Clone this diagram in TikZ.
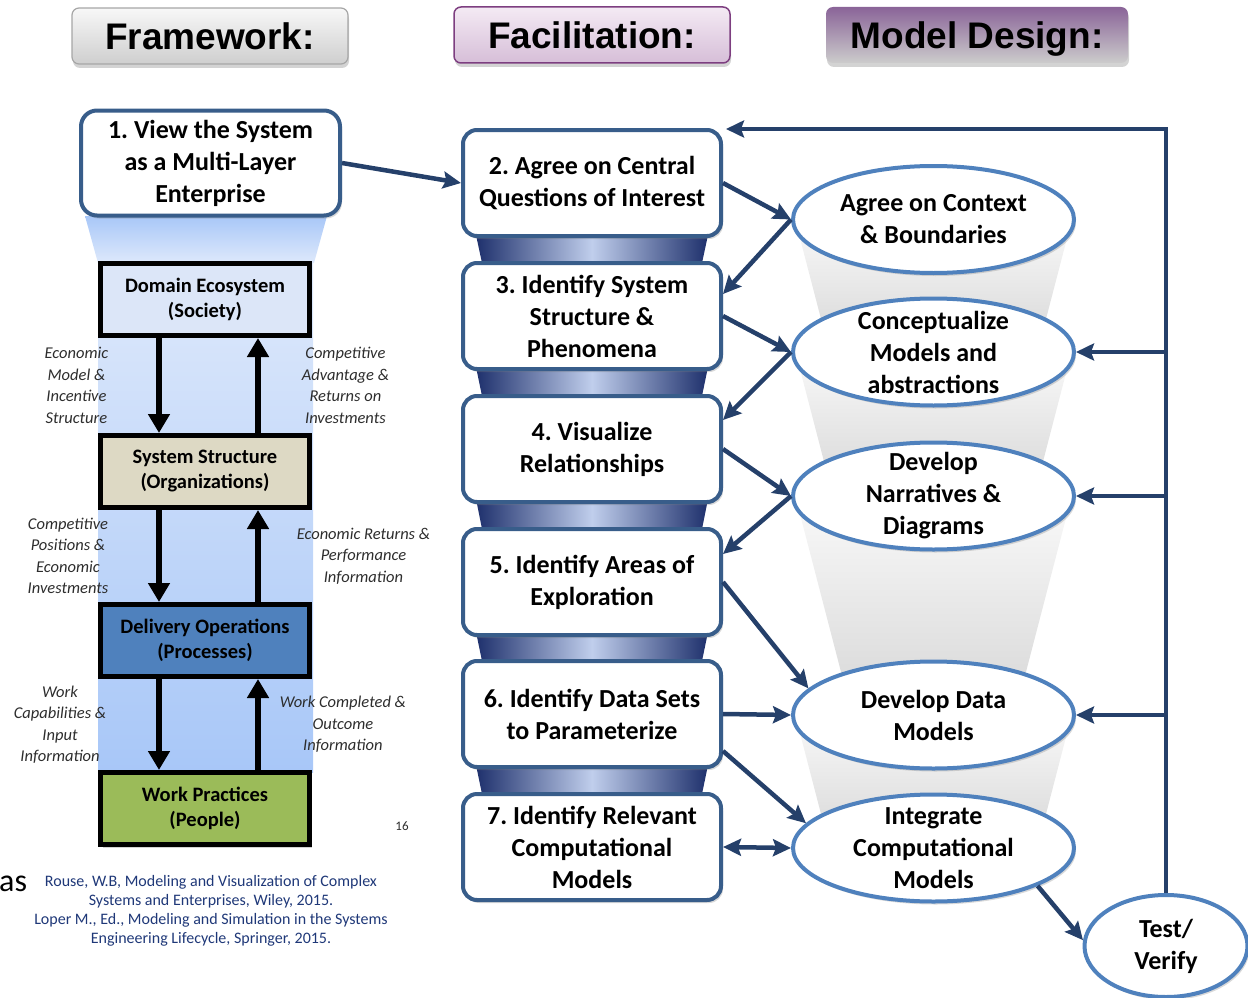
\documentclass[tikz,border=0pt]{standalone}
\usepackage{fontspec}
\setmainfont{Carlito}
\newfontfamily\headfont{Liberation Sans}
\usetikzlibrary{shapes.geometric}
\usetikzlibrary{shadows}
\usetikzlibrary{arrows.meta}
\frenchspacing

\definecolor{stepline}{RGB}{56,93,138}
\definecolor{modelline}{RGB}{79,129,189}
\definecolor{flowline}{RGB}{37,64,106}
\definecolor{notegray}{RGB}{45,45,45}
\definecolor{citeblue}{RGB}{31,56,120}
\definecolor{domainfill}{RGB}{220,230,248}
\definecolor{orgfill}{RGB}{221,217,196}
\definecolor{opsfill}{RGB}{79,129,189}
\definecolor{peoplefill}{RGB}{155,187,89}
\definecolor{funneldark}{RGB}{30,48,108}
\definecolor{funnellight}{RGB}{192,206,236}
\definecolor{columntop}{RGB}{222,233,251}
\definecolor{columnbot}{RGB}{168,199,248}
\definecolor{facitop}{RGB}{244,234,244}
\definecolor{facibot}{RGB}{214,190,216}
\definecolor{faciline}{RGB}{125,62,128}
\definecolor{designtop}{RGB}{138,100,152}
\definecolor{designmid}{RGB}{192,166,202}

\tikzset{
	header/.style={rounded corners=7pt, minimum height=56pt, inner sep=0pt,
		text height=27pt, text depth=0pt,
		font=\headfont\bfseries\fontsize{37}{40}\selectfont,
		drop shadow={opacity=0.35, shadow xshift=1pt, shadow yshift=-4pt}},
	stepbox/.style={draw=stepline, line width=4pt, fill=white, rounded corners=14pt,
		minimum width=258pt, minimum height=106pt, inner sep=2pt, align=center,
		font=\bfseries\fontsize{26}{32}\selectfont,
		drop shadow={opacity=0.3, shadow xshift=2pt, shadow yshift=-3pt}},
	modelbox/.style={ellipse, draw=modelline, line width=4pt, fill=white,
		minimum width=281pt, minimum height=107pt, inner sep=-10pt, align=center,
		font=\bfseries\fontsize{26}{32}\selectfont,
		drop shadow={opacity=0.3, shadow xshift=2pt, shadow yshift=-3pt}},
	layer/.style={draw=black, line width=5pt, minimum width=209pt, minimum height=72pt,
		align=center, font=\bfseries\fontsize{20.5}{25}\selectfont},
	layerarrow/.style={line width=5.5pt, -{Triangle[length=19pt, width=21pt]}},
	tip/.tip={Stealth[length=18pt, width=17pt, inset=3pt]},
	flow/.style={draw=flowline, line width=4.5pt, -tip},
	flowlabel/.style={inner sep=0pt, align=center, text=notegray,
		font=\itshape\fontsize{16.5}{21.5}\selectfont},
}

\begin{document}
\begin{tikzpicture}[x=1pt, y=-1pt]
	\useasboundingbox (0,0) rectangle (1248,998);
	\clip (0,0) rectangle (1248,998);

	% column headers
	\node [header, top color=gray!6, bottom color=gray!38, draw=gray!70, line width=1.2pt,
		minimum width=276pt] (framework) at (210,36) {Framework:};
	\node [header, top color=facitop, bottom color=facibot, draw=faciline, line width=1.5pt,
		minimum width=276pt] (facilitation) at (592,35) {Facilitation:};
	\node [header, top color=designtop, middle color=designmid, bottom color=gray!40,
		minimum width=302pt] (design) at (977,35) {Model Design:};

	% light blue column behind the layers
	\shade [top color=columnbot, bottom color=columntop] (85,216) -- (327,216) -- (314,263) -- (98,263) -- cycle;
	\shade [top color=columntop, bottom color=columnbot] (98,263) rectangle (313,772);

	% funnel pieces between the steps
	\foreach \ya/\yb in {235/263, 367/396, 499/529, 632/661, 765/794}
		\shade [left color=funneldark, right color=funneldark, middle color=funnellight]
			(476,\ya) -- (708,\ya) -- (702,\yb) -- (482,\yb) -- cycle;

	% gray cones between the models
	\foreach \ya/\yb in {219/350, 350/495, 495/714, 714/847}
		\shade [top color=gray!4, bottom color=gray!32]
			(795,\ya) -- (1072,\ya) -- ({1072-0.26*(\yb-\ya)},\yb) -- ({795+0.26*(\yb-\ya)},\yb) -- cycle;

	% framework
	\node [stepbox, minimum width=259pt, minimum height=105pt, rounded corners=16pt] (multilayer) at (210.5,163)
		{1. View the System\\as a Multi-Layer\\Enterprise};
	\node [layer, fill=domainfill] (domain) at (205,299.5) {Domain Ecosystem\\(Society)};
	\node [layer, fill=orgfill] (orgs) at (205,471.5) {System Structure\\(Organizations)};
	\node [layer, fill=opsfill] (ops) at (205,640.5) {Delivery Operations\\(Processes)};
	\node [layer, fill=peoplefill, drop shadow={opacity=0.35, shadow xshift=2pt, shadow yshift=-3pt}] (people) at (205,808.5)
		{Work Practices\\(People)};

	\draw [layerarrow] ([xshift=-46pt]domain.south) -- ([xshift=-46pt]orgs.north)
		node [flowlabel, midway, left=48pt] {Economic\\Model \&\\Incentive\\Structure};
	\draw [layerarrow] ([xshift=53pt]orgs.north) -- ([xshift=53pt]domain.south)
		node [flowlabel, midway, right=41pt] {Competitive\\Advantage \&\\Returns on\\Investments};
	\draw [layerarrow] ([xshift=-46pt]orgs.south) -- ([xshift=-46pt]ops.north)
		node [flowlabel, midway, left=48pt] {Competitive\\Positions \&\\Economic\\Investments};
	\draw [layerarrow] ([xshift=53pt]ops.north) -- ([xshift=53pt]orgs.south)
		node [flowlabel, midway, right=36pt] {Economic Returns \&\\Performance\\Information};
	\draw [layerarrow] ([xshift=-46pt]ops.south) -- ([xshift=-46pt]people.north)
		node [flowlabel, midway, left=50pt] {Work\\Capabilities \&\\Input\\Information};
	\draw [layerarrow] ([xshift=53pt]people.north) -- ([xshift=53pt]ops.south)
		node [flowlabel, midway, right=19pt] {Work Completed \&\\Outcome\\Information};

	% facilitation steps
	\node [stepbox] (questions) at (592,183) {2. Agree on Central\\Questions of Interest};
	\node [stepbox] (structure) at (592,316) {3. Identify System\\Structure \&\\Phenomena};
	\node [stepbox] (visualize) at (592,449) {4. Visualize\\Relationships};
	\node [stepbox] (areas) at (592,582) {5. Identify Areas of\\Exploration};
	\node [stepbox] (datasets) at (592,714) {6. Identify Data Sets\\to Parameterize};
	\node [stepbox] (relevant) at (592,847) {7. Identify Relevant\\Computational\\Models};

	% model design
	\node [modelbox] (context) at (933.5,219.5) {Agree on Context\\\& Boundaries};
	\node [modelbox] (concept) at (933.5,352) {Conceptualize\\Models and\\abstractions};
	\node [modelbox] (narrative) at (933.5,496) {Develop\\Narratives \&\\Diagrams};
	\node [modelbox] (datamodel) at (933.5,715) {Develop Data\\Models};
	\node [modelbox] (integrate) at (933.5,848) {Integrate\\Computational\\Models};
	\node [modelbox, minimum width=163pt, minimum height=102pt] (testverify) at (1166,946) {Test/\\Verify};

	% flow between the columns
	\draw [flow] (multilayer.east) -- (questions.west);
	\draw [flow] (questions.east) -- (context.west);
	\draw [flow] (context.west) -- ([yshift=22pt]structure.east);
	\draw [flow] (structure.east) -- (concept.west);
	\draw [flow] (concept.west) -- ([yshift=29pt]visualize.east);
	\draw [flow] (visualize.east) -- (narrative.west);
	\draw [flow] (narrative.west) -- ([yshift=28pt]areas.east);
	\draw [flow] (areas.east) -- (datamodel.168);
	\draw [flow] (datasets.east) -- (datamodel.west);
	\draw [flow] ([yshift=-37pt]datasets.east) -- (integrate.169);
	\draw [flow, tip-tip] (relevant.east) -- (integrate.west);
	\draw [flow] (integrate.-20) -- (testverify.176);

	% feedback loop
	\draw [flow, line join=miter] (testverify.north) |- ([xshift=3pt, yshift=-1pt]questions.north east);
	\draw [flow] (testverify.north |- concept.east) -- (concept.east);
	\draw [flow] (testverify.north |- narrative.east) -- (narrative.east);
	\draw [flow] (testverify.north |- datamodel.east) -- (datamodel.east);

	% notes
	\node [inner sep=0pt, text=notegray, font=\fontsize{13}{15}\selectfont] (pagenum) at (402,826) {16};
	\node [anchor=base west, inner sep=0pt, font=\fontsize{32}{36}\selectfont] (cutword) at (-1,891) {as};
	\node [inner sep=0pt, align=center, text=citeblue, font=\fontsize{16}{19}\selectfont] (cite) at (211,910.5)
		{Rouse, W.B, Modeling and Visualization of Complex\\Systems and Enterprises, Wiley, 2015.\\Loper M., Ed., Modeling and Simulation in the Systems\\Engineering Lifecycle, Springer, 2015.};
\end{tikzpicture}
\end{document}
